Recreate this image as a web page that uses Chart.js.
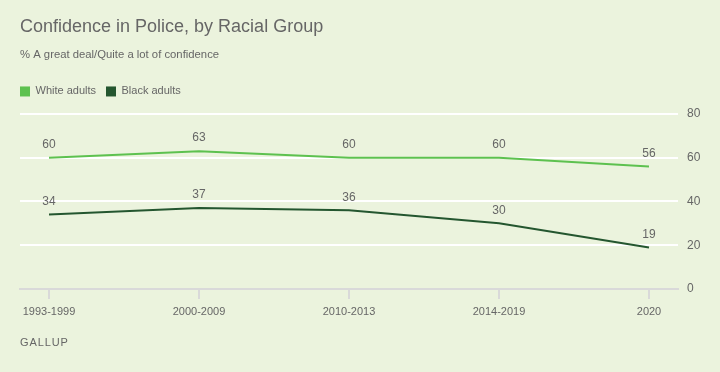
<!DOCTYPE html>
<html>
<head>
<meta charset="utf-8">
<script src="https://cdn.jsdelivr.net/npm/chart.js@4/dist/chart.umd.min.js"></script>
<style>
  html, body { margin: 0; padding: 0; background: #ebf3dd; }
  #wrap { position: relative; width: 720px; height: 372px; }
  canvas { display: block; }
  #source { position: absolute; left: 20px; top: 336px; font: 11px "Liberation Sans", Arial, sans-serif; letter-spacing: 0.9px; color: #666; }
</style>
</head>
<body>
<div id="wrap">
  <canvas id="c" width="720" height="372"></canvas>
  <div id="source">GALLUP</div>
</div>
<script>
const categories = ["1993-1999", "2000-2009", "2010-2013", "2014-2019", "2020"];
const whiteAdults = [60, 63, 60, 60, 56];
const blackAdults = [34, 37, 36, 30, 19];
const yTicks = [0, 20, 40, 60, 80];

const FONT = '"Liberation Sans", Arial, sans-serif';
const GRAY = '#666666';
const LIGHT = '#5dc14f';
const DARK = '#24562f';

const toPts = arr => arr.map((v, i) => ({ x: i, y: v }));

const valueLabels = {
  id: 'valueLabels',
  afterDatasetsDraw(chart) {
    const ctx = chart.ctx;
    ctx.save();
    ctx.font = '12px ' + FONT;
    ctx.fillStyle = GRAY;
    ctx.textAlign = 'center';
    ctx.textBaseline = 'middle';
    chart.data.datasets.forEach((ds, di) => {
      const meta = chart.getDatasetMeta(di);
      meta.data.forEach((pt, i) => {
        ctx.fillText(String(ds.data[i].y), pt.x, pt.y - 13);
      });
    });
    ctx.restore();
  }
};

const legendShift = {
  id: 'legendShift',
  afterLayout(chart) {
    if (chart.legend) {
      chart.legend.left -= 10;
      chart.legend.right -= 10;
      chart.legend.top -= 7;
      chart.legend.bottom -= 7;
    }
  }
};

new Chart(document.getElementById('c'), {
  type: 'line',
  data: {
    datasets: [
      { label: 'White adults', data: toPts(whiteAdults), borderColor: LIGHT, backgroundColor: LIGHT, borderWidth: 2, pointRadius: 0, tension: 0 },
      { label: 'Black adults', data: toPts(blackAdults), borderColor: DARK, backgroundColor: DARK, borderWidth: 2, pointRadius: 0, tension: 0 }
    ]
  },
  options: {
    responsive: false,
    animation: false,
    layout: { padding: { left: 20, right: 0, top: 0, bottom: 0 } },
    plugins: {
      title: {
        display: true, align: 'start', text: 'Confidence in Police, by Racial Group',
        color: GRAY, font: { family: FONT, size: 18, weight: 'normal', lineHeight: 1.2 },
        padding: { top: 16.6, bottom: 9.6 }
      },
      subtitle: {
        display: true, align: 'start', text: '% A great deal/Quite a lot of confidence',
        color: GRAY, font: { family: FONT, size: 11.3, weight: 'normal' },
        padding: { top: 0, bottom: 21.6 }
      },
      legend: {
        display: true, align: 'start', position: 'top',
        labels: {
          boxWidth: 10, boxHeight: 10, padding: 10, color: GRAY, font: { family: FONT, size: 11 },
          generateLabels(chart) {
            return Chart.defaults.plugins.legend.labels.generateLabels(chart).map(l => Object.assign(l, { lineWidth: 0 }));
          }
        }
      },
      tooltip: { enabled: false }
    },
    scales: {
      x: {
        type: 'linear',
        min: -29 / 150, max: 4 + 29 / 150,
        afterFit(s) { s.height = 83; },
        ticks: {
          stepSize: 1, includeBounds: false, autoSkip: false, maxRotation: 0,
          color: GRAY, font: { family: FONT, size: 11 }, padding: 6,
          callback: v => categories[v] ?? ''
        },
        grid: { drawOnChartArea: false, drawTicks: true, tickLength: 10, color: '#d9d9d9', lineWidth: 2 },
        border: { display: true, color: '#d9d9d9', width: 2 }
      },
      y: {
        position: 'right',
        min: 0, max: 80,
        afterFit(s) { s.width = 42; },
        afterBuildTicks(s) { s.ticks = yTicks.map(v => ({ value: v })); },
        ticks: { color: GRAY, font: { family: FONT, size: 12 }, padding: 9 },
        grid: { drawTicks: false, color: c => (c.tick && c.tick.value === 0) ? 'rgba(0,0,0,0)' : '#ffffff', lineWidth: 2 },
        border: { display: false }
      }
    }
  },
  plugins: [valueLabels, legendShift]
});
</script>
</body>
</html>
